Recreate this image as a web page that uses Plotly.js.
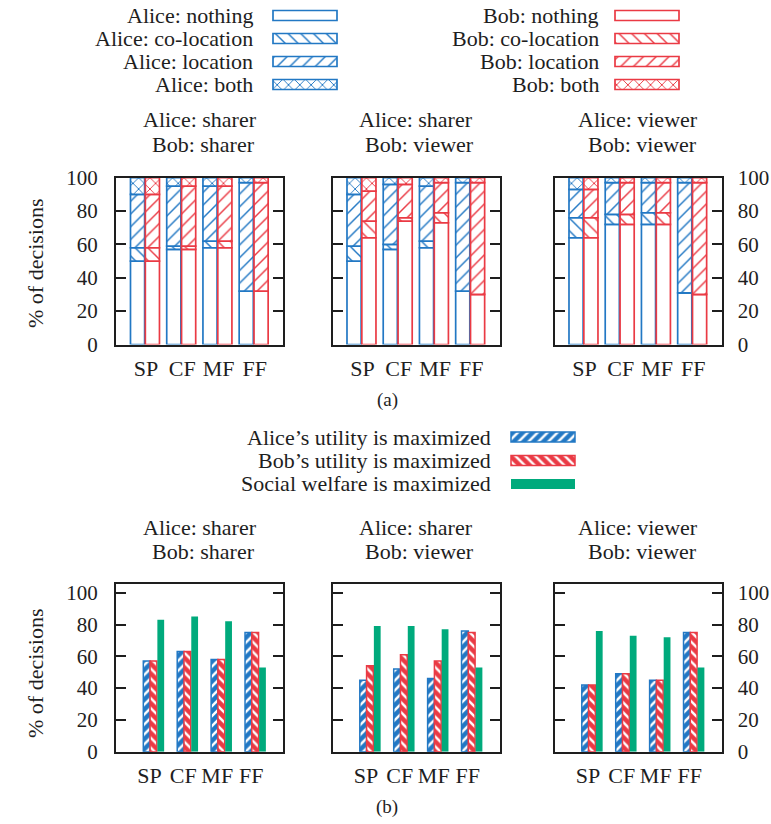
<!DOCTYPE html>
<html><head><meta charset="utf-8">
<script src="https://cdn.plot.ly/plotly-3.0.1.min.js"></script>
<style>html,body{margin:0;padding:0;background:#fff}#chart{width:771px;height:824px}</style>
</head><body><div id="chart"></div><script>
// ---------------- DATA ----------------
const categories = ['SP', 'CF', 'MF', 'FF'];
const segmentNames = ['nothing', 'co-location', 'location', 'both'];
const panelTitles = [['Alice: sharer', 'Bob: sharer'], ['Alice: sharer', 'Bob: viewer'], ['Alice: viewer', 'Bob: viewer']];

// (a) % of decisions by what is shared (segments stack to 100)
// panel 1: Alice sharer / Bob sharer
const ssAliceNothing = [50, 57, 58, 32], ssAliceColoc = [8, 2, 4, 0], ssAliceLocation = [32, 36, 33, 65], ssAliceBoth = [10, 5, 5, 3];
const ssBobNothing = [50, 57, 58, 32], ssBobColoc = [8, 2, 4, 0], ssBobLocation = [32, 36, 33, 65], ssBobBoth = [10, 5, 5, 3];
// panel 2: Alice sharer / Bob viewer
const svAliceNothing = [50, 57, 58, 32], svAliceColoc = [9, 3, 4, 0], svAliceLocation = [31, 36, 33, 65], svAliceBoth = [10, 4, 5, 3];
const svBobNothing = [64, 74, 73, 30], svBobColoc = [10, 2, 6, 0], svBobLocation = [18, 20, 18, 67], svBobBoth = [8, 4, 3, 3];
// panel 3: Alice viewer / Bob viewer
const vvAliceNothing = [64, 72, 72, 31], vvAliceColoc = [12, 6, 7, 0], vvAliceLocation = [17, 19, 18, 66], vvAliceBoth = [7, 3, 3, 3];
const vvBobNothing = [64, 72, 72, 30], vvBobColoc = [12, 6, 7, 0], vvBobLocation = [17, 19, 18, 67], vvBobBoth = [7, 3, 3, 3];

// (b) % of decisions where each objective is maximized
const ssAliceUtil = [57, 63, 58, 75], ssBobUtil = [57, 63, 58, 75], ssSocial = [83, 85, 82, 53];
const svAliceUtil = [45, 52, 46, 76], svBobUtil = [54, 61, 57, 75], svSocial = [79, 79, 77, 53];
const vvAliceUtil = [42, 49, 45, 75], vvBobUtil = [42, 49, 45, 75], vvSocial = [76, 73, 72, 53];

const yTicks = [0, 20, 40, 60, 80, 100];
const legendAText = ['Alice: nothing', 'Alice: co-location', 'Alice: location', 'Alice: both'];
const legendBText = ['Bob: nothing', 'Bob: co-location', 'Bob: location', 'Bob: both'];
const legendUtilText = ["Alice\u2019s utility is maximized", "Bob\u2019s utility is maximized", 'Social welfare is maximized'];

// ---------------- STYLE / LAYOUT ----------------
const W = 771, H = 824;
const BLUE = '#2278c4', RED = '#ea3a44', GREEN = '#00aa7c', INK = '#1e1e1e';
const FONT = '"Liberation Serif", "DejaVu Serif", serif';
const FS = 22, TFS = 21;
const px = x => x / W, py = y => 1 - y / H;
const xDom = [[116, 283], [332.5, 499.5], [554.5, 721.5]];
const topY = [177.7, 344.5], botY = [584.3, 751.7];

const topPanels = [
  {alice: [ssAliceNothing, ssAliceColoc, ssAliceLocation, ssAliceBoth], bob: [ssBobNothing, ssBobColoc, ssBobLocation, ssBobBoth]},
  {alice: [svAliceNothing, svAliceColoc, svAliceLocation, svAliceBoth], bob: [svBobNothing, svBobColoc, svBobLocation, svBobBoth]},
  {alice: [vvAliceNothing, vvAliceColoc, vvAliceLocation, vvAliceBoth], bob: [vvBobNothing, vvBobColoc, vvBobLocation, vvBobBoth]}
];
const botPanels = [
  [ssAliceUtil, ssBobUtil, ssSocial],
  [svAliceUtil, svBobUtil, svSocial],
  [vvAliceUtil, vvBobUtil, vvSocial]
];
const segPattern = ['', '\\', '/', 'x'];

function pattern(shape, col) {
  if (!shape) return {shape: ''};
  return {shape: shape, fgcolor: col, bgcolor: 'white', size: shape === 'x' ? 8 : 9, solidity: shape === 'x' ? 0.22 : 0.16};
}

const idx = categories.map((_, i) => i);
const traces = [];
const layout = {
  width: W, height: H, margin: {l: 0, r: 0, t: 0, b: 0},
  paper_bgcolor: 'white', plot_bgcolor: 'rgba(0,0,0,0)',
  showlegend: false, barmode: 'overlay',
  font: {family: FONT, size: FS, color: INK},
  annotations: [], shapes: []
};

function axisCommon(fs) {
  return {showline: true, linewidth: 2, linecolor: INK, showgrid: false, zeroline: false, fixedrange: true,
    tickfont: {family: FONT, size: fs, color: INK}};
}

for (let p = 0; p < 3; p++) {
  // ----- top -----
  const ax = p + 1;
  const xs = 'x' + ax, ys = 'y' + ax;
  const xk = ax === 1 ? 'xaxis' : 'xaxis' + ax, yk = ax === 1 ? 'yaxis' : 'yaxis' + ax;
  layout[xk] = Object.assign(axisCommon(FS), {domain: [px(xDom[p][0]), px(xDom[p][1])], anchor: ys,
    range: [-0.8, 3.81], tickvals: idx.map(i => i + 0.03), ticktext: categories, ticks: '', mirror: true, ticklabelstandoff: 3});
  layout[yk] = Object.assign(axisCommon(TFS), {domain: [py(topY[1]), py(topY[0])], anchor: xs,
    range: [0, 100], tickvals: yTicks, ticks: 'inside', ticklen: 10, tickwidth: 2, tickcolor: INK, mirror: 'allticks',
    showticklabels: p !== 1, side: p === 2 ? 'right' : 'left', ticklabelstandoff: p === 2 ? 10 : 12});
  [['alice', BLUE, -0.4], ['bob', RED, 0.01]].forEach(([who, col, off]) => {
    const segs = topPanels[p][who];
    const cum = [0, 0, 0, 0];
    segs.forEach((vals, s) => {
      traces.push({type: 'bar', x: idx, y: vals, base: cum.slice(), offset: off, width: 0.39,
        xaxis: xs, yaxis: ys, name: who + ' ' + segmentNames[s], hoverinfo: 'skip',
        marker: {color: 'white', line: {color: col, width: 1.7}, pattern: pattern(segPattern[s], col)}});
      vals.forEach((v, i) => cum[i] += v);
    });
  });
  const cx = (xDom[p][0] + xDom[p][1]) / 2;
  [[120, 144], [527, 551]].forEach(([y1, y2]) => {
    layout.annotations.push({xref: 'paper', yref: 'paper', x: px(cx), y: py(y1), xanchor: 'center', yanchor: 'middle',
      text: panelTitles[p][0], showarrow: false, font: {size: FS}});
    layout.annotations.push({xref: 'paper', yref: 'paper', x: px(cx + 4), y: py(y2), xanchor: 'center', yanchor: 'middle',
      text: panelTitles[p][1], showarrow: false, font: {size: FS}});
  });

  // ----- bottom -----
  const bx = p + 4;
  const bxs = 'x' + bx, bys = 'y' + bx;
  layout['xaxis' + bx] = Object.assign(axisCommon(FS), {domain: [px(xDom[p][0]), px(xDom[p][1])], anchor: bys,
    range: [-1.105, 3.82], tickvals: idx.map(i => i - 0.12), ticktext: categories, ticks: '', mirror: true, ticklabelstandoff: 3});
  layout['yaxis' + bx] = Object.assign(axisCommon(TFS), {domain: [py(botY[1]), py(botY[0])], anchor: bxs,
    range: [0, 105.3], tickvals: yTicks, ticks: 'inside', ticklen: 10, tickwidth: 2, tickcolor: INK, mirror: 'allticks',
    showticklabels: p !== 1, side: p === 2 ? 'right' : 'left', ticklabelstandoff: p === 2 ? 10 : 12});
  const [au, bu, so] = botPanels[p];
  traces.push({type: 'bar', x: idx, y: au, offset: -0.3, width: 0.2, xaxis: bxs, yaxis: bys, hoverinfo: 'skip',
    marker: {color: BLUE, line: {color: BLUE, width: 1.5}, pattern: {shape: '/', fgcolor: 'white', bgcolor: BLUE, size: 7, solidity: 0.35}}});
  traces.push({type: 'bar', x: idx, y: bu, offset: -0.1, width: 0.2, xaxis: bxs, yaxis: bys, hoverinfo: 'skip',
    marker: {color: RED, line: {color: RED, width: 1.5}, pattern: {shape: '\\', fgcolor: 'white', bgcolor: RED, size: 7, solidity: 0.35}}});
  traces.push({type: 'bar', x: idx, y: so, offset: 0.115, width: 0.2, xaxis: bxs, yaxis: bys, hoverinfo: 'skip',
    marker: {color: GREEN, line: {width: 0}}});
}

layout.annotations.push({xref: 'paper', yref: 'paper', x: px(35), y: py(263), textangle: -90, text: '% of decisions',
  showarrow: false, xanchor: 'center', yanchor: 'middle', font: {size: FS}});
layout.annotations.push({xref: 'paper', yref: 'paper', x: px(35), y: py(673), textangle: -90, text: '% of decisions',
  showarrow: false, xanchor: 'center', yanchor: 'middle', font: {size: FS}});
layout.annotations.push({xref: 'paper', yref: 'paper', x: px(387), y: py(400), text: '(a)', showarrow: false,
  xanchor: 'center', yanchor: 'middle', font: {size: 19}});
layout.annotations.push({xref: 'paper', yref: 'paper', x: px(387), y: py(807), text: '(b)', showarrow: false,
  xanchor: 'center', yanchor: 'middle', font: {size: 19}});

// ---------------- LEGEND KEYS (helper pixel axis) ----------------
layout.xaxis7 = {domain: [0, 1], range: [0, W], visible: false, fixedrange: true, anchor: 'y7'};
layout.yaxis7 = {domain: [0, 1], range: [H, 0], visible: false, fixedrange: true, anchor: 'x7'};
const legRowsA = [15.5, 38.5, 61.5, 84.5];
const legCols = [{text: legendAText, textRight: 255, keyX: 273, col: BLUE}, {text: legendBText, textRight: 601, keyX: 615, col: RED}];
legCols.forEach(c => {
  c.text.forEach((t, s) => {
    traces.push({type: 'bar', orientation: 'h', y: [legRowsA[s]], x: [64], base: [c.keyX], width: 10, xaxis: 'x7', yaxis: 'y7',
      hoverinfo: 'skip', marker: {color: 'white', line: {color: c.col, width: 1.7}, pattern: pattern(segPattern[s], c.col)}});
    layout.annotations.push({xref: 'paper', yref: 'paper', x: px(c.textRight), y: py(legRowsA[s]), xanchor: 'right', yanchor: 'middle',
      text: t, showarrow: false, font: {size: FS}});
  });
});
const legRowsB = [437, 460.5, 484];
const legBMarkers = [
  {color: BLUE, line: {color: BLUE, width: 1.5}, pattern: {shape: '/', fgcolor: 'white', bgcolor: BLUE, size: 7, solidity: 0.35}},
  {color: RED, line: {color: RED, width: 1.5}, pattern: {shape: '\\', fgcolor: 'white', bgcolor: RED, size: 7, solidity: 0.35}},
  {color: GREEN, line: {width: 0}}
];
legendUtilText.forEach((t, s) => {
  traces.push({type: 'bar', orientation: 'h', y: [legRowsB[s]], x: [64], base: [511], width: 10, xaxis: 'x7', yaxis: 'y7',
    hoverinfo: 'skip', marker: legBMarkers[s]});
  layout.annotations.push({xref: 'paper', yref: 'paper', x: px(493), y: py(legRowsB[s]), xanchor: 'right', yanchor: 'middle',
    text: t, showarrow: false, font: {size: FS}});
});

Plotly.newPlot('chart', traces, layout, {staticPlot: true, displayModeBar: false});
</script></body></html>
